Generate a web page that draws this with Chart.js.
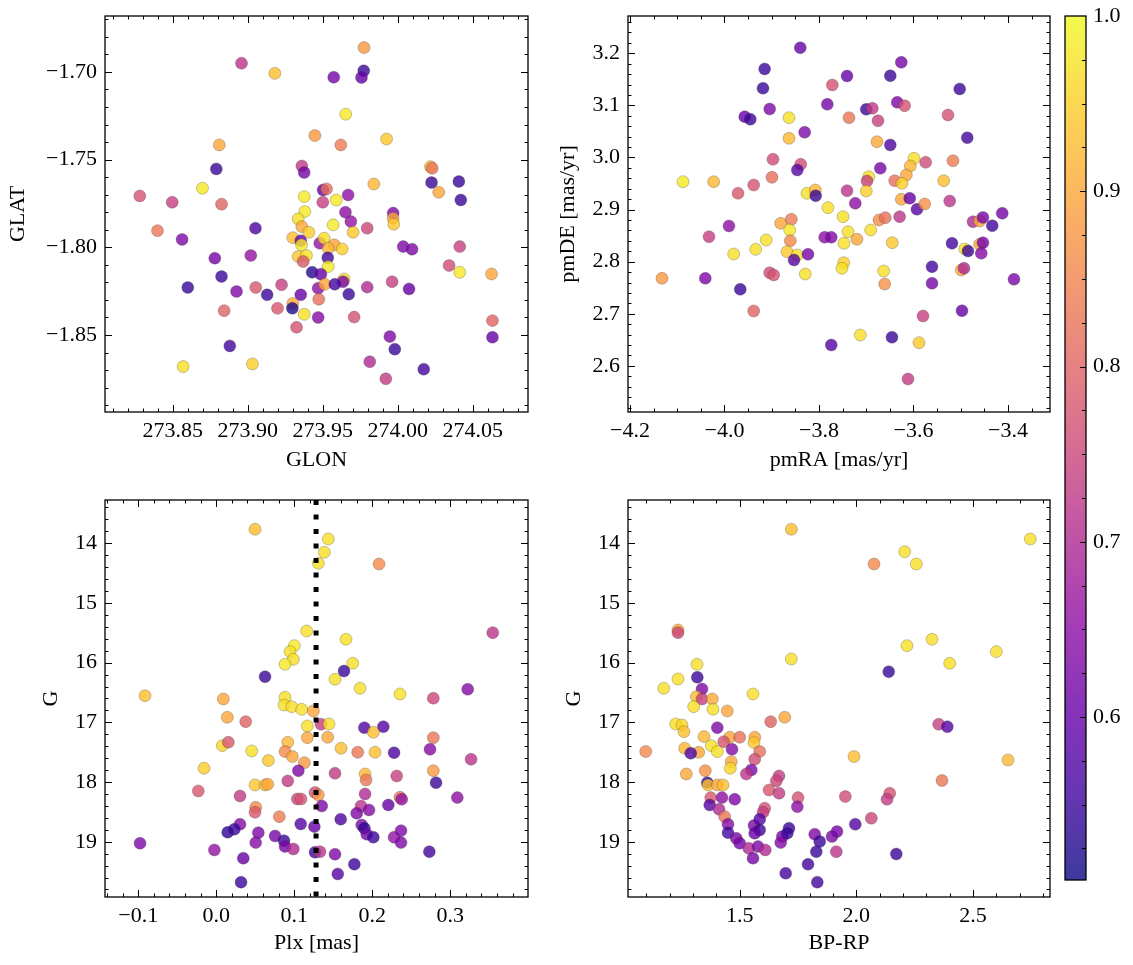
<!DOCTYPE html>
<html><head><meta charset="utf-8">
<script src="https://cdn.jsdelivr.net/npm/chart.js@4.4.1/dist/chart.umd.min.js"></script>
<style>
html,body{margin:0;padding:0;background:#fff;width:1133px;height:965px;overflow:hidden}
canvas{position:absolute}
</style></head><body>
<canvas id="cSky" width="560" height="490" style="left:0;top:0"></canvas>
<canvas id="cPm" width="520" height="490" style="left:540px;top:0"></canvas>
<canvas id="cPlx" width="560" height="475" style="left:0;top:490px"></canvas>
<canvas id="cCmd" width="520" height="475" style="left:540px;top:490px"></canvas>
<canvas id="cBar" width="73" height="965" style="left:1060px;top:0"></canvas>
<script>
// ---------------- data ----------------
const glon = [273.8958,273.918,273.9447,273.881,273.879,273.936,273.9376,273.8698,273.828,273.8496,273.8825,273.9376,273.938,273.9336,273.936,273.9407,273.93,273.9353,273.9358,273.9336,273.9391,273.9369,273.8398,273.8562,273.9051,273.878,273.902,273.8825,273.86,273.8925,273.9053,273.9129,273.9225,273.9429,273.9469,273.9353,273.93,273.9297,273.9198,273.9376,273.8842,273.9325,273.888,273.8569,273.9031,273.9469,273.9473,273.948,273.9775,273.9773,273.9758,273.9573,273.9653,273.9925,273.962,274.0218,274.0229,274.0225,274.0273,274.0407,274.042,273.984,273.9502,273.9525,273.95,273.959,273.9669,273.9651,273.9687,273.9569,273.9702,273.9796,273.9969,273.9969,273.9973,273.9509,273.9576,273.9536,273.9629,273.9533,273.9536,273.9487,273.9642,273.9635,273.9513,273.958,273.9673,273.9796,273.9962,274.0075,274.0036,274.0095,274.0342,274.0413,274.0413,274.0625,274.0631,274.0631,273.9709,273.9947,273.998,273.9813,273.992,274.0173];
const glat = [-1.695,-1.7008,-1.7363,-1.7416,-1.7553,-1.7536,-1.7574,-1.7663,-1.7707,-1.7743,-1.7754,-1.7711,-1.7796,-1.7838,-1.7882,-1.7914,-1.7945,-1.7962,-1.7986,-1.8053,-1.8047,-1.8081,-1.7905,-1.7955,-1.7891,-1.8062,-1.8047,-1.8167,-1.8229,-1.8252,-1.8229,-1.8271,-1.8214,-1.8142,-1.8233,-1.8271,-1.832,-1.8348,-1.8348,-1.8382,-1.8361,-1.8456,-1.8562,-1.868,-1.8665,-1.84,-1.8296,-1.7977,-1.6861,-1.6993,-1.7032,-1.703,-1.7241,-1.7382,-1.7416,-1.754,-1.7549,-1.7631,-1.7686,-1.7625,-1.773,-1.7639,-1.7673,-1.7667,-1.7743,-1.773,-1.7701,-1.78,-1.7853,-1.7872,-1.7914,-1.7891,-1.7805,-1.7834,-1.7868,-1.7948,-1.7986,-1.8005,-1.8009,-1.8059,-1.811,-1.8153,-1.818,-1.8196,-1.8211,-1.8211,-1.8267,-1.8227,-1.8196,-1.8237,-1.7996,-1.8011,-1.8104,-1.7996,-1.8142,-1.8152,-1.8418,-1.8513,-1.8398,-1.8509,-1.8581,-1.8652,-1.875,-1.8695];
const probSky = [0.72,0.93,0.88,0.90,0.55,0.73,0.62,0.98,0.77,0.74,0.80,0.98,0.98,0.97,0.90,0.95,0.93,0.60,0.98,0.94,0.97,0.78,0.83,0.63,0.57,0.62,0.66,0.55,0.55,0.63,0.78,0.55,0.74,0.53,0.65,0.60,0.90,0.52,0.78,0.97,0.80,0.77,0.56,0.97,0.95,0.64,0.82,0.66,0.88,0.55,0.60,0.62,0.98,0.94,0.84,0.92,0.83,0.55,0.90,0.55,0.55,0.92,0.60,0.82,0.74,0.98,0.65,0.65,0.66,0.98,0.94,0.75,0.63,0.90,0.94,0.97,0.90,0.92,0.95,0.56,0.98,0.60,0.97,0.62,0.90,0.56,0.55,0.70,0.74,0.60,0.63,0.63,0.76,0.74,0.98,0.90,0.80,0.60,0.77,0.63,0.55,0.70,0.73,0.56];

const pmra = [-3.8396,-3.915,-3.9185,-3.7824,-3.7718,-3.9044,-3.9572,-3.9454,-3.8635,-3.8635,-3.8303,-3.8974,-3.8387,-3.8459,-4.0878,-4.0229,-3.9714,-3.9382,-3.8995,-3.8254,-3.8078,-3.807,-3.781,-3.7492,-3.8811,-3.8586,-3.862,-3.8607,-3.8677,-3.8459,-3.8529,-3.8233,-3.829,-3.9905,-4.0328,-3.9116,-3.934,-3.9805,-3.9044,-3.8959,-4.1323,-4.0406,-3.9666,-3.9382,-3.774,-3.788,-3.774,-3.7471,-3.7477,-3.7513,-3.7407,-3.7407,-3.6258,-3.6491,-3.5022,-3.6999,-3.6872,-3.6343,-3.6187,-3.6751,-3.7365,-3.527,-3.4862,-3.6773,-3.6491,-3.5989,-3.6068,-3.5742,-3.5164,-3.6703,-3.6948,-3.6984,-3.6999,-3.6398,-3.6152,-3.6243,-3.5361,-3.7232,-3.6258,-3.608,-3.5926,-3.5763,-3.5234,-3.6293,-3.6731,-3.6597,-3.7386,-3.7196,-3.6906,-3.6449,-3.4741,-3.46,-3.453,-3.4333,-3.4122,-3.5185,-3.4916,-3.4846,-3.46,-3.453,-3.4566,-3.5608,-3.5608,-3.4989,-3.4931,-3.3873,-3.6631,-3.661,-3.5799,-3.4974,-3.7126,-3.6455,-3.5884,-3.6116];
const pmde = [3.2107,3.17,3.1328,3.1021,3.1392,3.0931,3.0783,3.0733,3.0764,3.0368,3.0484,2.9965,2.9869,2.976,2.9536,2.9536,2.9313,2.9472,2.962,2.9313,2.9376,2.9267,2.9037,2.8864,2.8737,2.8813,2.8608,2.8403,2.8192,2.8129,2.8033,2.8142,2.7764,2.8685,2.848,2.8417,2.8238,2.8148,2.7789,2.7745,2.7681,2.7681,2.747,2.7054,2.6401,2.8468,2.8468,2.8353,2.798,2.7873,3.1564,2.9363,3.1827,3.157,3.1315,3.0925,3.0944,3.1059,3.0994,3.0706,3.0764,3.0816,3.038,3.0303,3.024,2.9985,2.9837,2.9908,2.9939,2.9793,2.9631,2.9549,2.9357,2.9555,2.9664,2.9505,2.9555,2.9121,2.9198,2.9217,2.9006,2.9107,2.9165,2.8864,2.88,2.8845,2.8576,2.843,2.8608,2.8365,2.8768,2.8781,2.885,2.8691,2.8929,2.8353,2.8244,2.8205,2.8334,2.8365,2.8161,2.7904,2.7585,2.7841,2.7873,2.7662,2.7822,2.7572,2.6958,2.706,2.6593,2.6549,2.6446,2.5749];
const probPm = [0.60,0.55,0.55,0.62,0.77,0.63,0.60,0.55,0.97,0.92,0.63,0.76,0.76,0.58,0.98,0.92,0.78,0.77,0.82,0.97,0.92,0.55,0.97,0.97,0.90,0.84,0.98,0.86,0.94,0.97,0.58,0.62,0.97,0.65,0.74,0.97,0.97,0.97,0.76,0.77,0.88,0.63,0.55,0.80,0.58,0.65,0.63,0.97,0.95,0.97,0.60,0.72,0.62,0.55,0.55,0.55,0.73,0.63,0.77,0.74,0.83,0.77,0.56,0.90,0.57,0.97,0.92,0.76,0.84,0.62,0.97,0.74,0.95,0.82,0.90,0.95,0.93,0.65,0.90,0.60,0.58,0.87,0.72,0.72,0.86,0.82,0.97,0.90,0.97,0.94,0.70,0.90,0.62,0.56,0.62,0.56,0.97,0.55,0.90,0.62,0.64,0.56,0.62,0.90,0.70,0.63,0.97,0.87,0.74,0.60,0.97,0.55,0.94,0.73];

const plx = [0.0497,0.1309,0.1386,0.1437,0.116,0.1001,0.0946,0.0989,0.0882,0.0626,-0.0913,0.0091,0.0882,0.0869,0.0968,0.1096,0.1245,0.0142,0.0378,0.1168,0.1344,0.1168,0.0078,0.0155,0.0917,0.0882,0.0976,0.0455,0.0668,0.113,-0.0156,0.1053,0.0917,0.0497,0.0626,0.066,-0.023,0.0305,0.104,0.1087,0.1267,0.1309,0.1353,0.0506,0.0497,0.0809,0.1083,0.1258,0.0305,0.0232,0.0147,0.054,0.0754,0.0869,0.0882,0.0989,0.0506,-0.0977,-0.0024,0.0347,0.1267,0.133,0.0318,0.2087,0.3545,0.1664,0.175,0.1638,0.1523,0.1844,0.2356,0.3224,0.2783,0.1446,0.1429,0.1899,0.2142,0.2014,0.16,0.1814,0.2036,0.228,0.2783,0.2741,0.3267,0.2783,0.2818,0.1523,0.1908,0.1921,0.2314,0.1908,0.2356,0.2378,0.3091,0.2206,0.1856,0.1801,0.1959,0.1865,0.1899,0.193,0.2014,0.228,0.2369,0.2369,0.1596,0.1523,0.1771,0.1558,0.2732];
const gPlx = [13.765,14.335,14.151,13.928,15.469,15.715,15.815,15.943,16.027,16.234,16.553,16.608,16.58,16.709,16.737,16.781,16.809,16.915,16.988,17.06,17.032,17.256,17.39,17.333,17.333,17.49,17.574,17.479,17.641,17.675,17.769,17.809,17.981,18.049,18.049,18.037,18.149,18.233,18.283,18.283,18.177,18.216,18.401,18.422,18.506,18.58,18.702,18.747,18.707,18.791,18.841,18.848,18.903,18.982,19.082,19.121,19.015,19.025,19.137,19.276,19.176,19.166,19.678,14.347,15.497,15.608,16.01,16.139,16.278,16.429,16.524,16.446,16.596,17.027,17.25,17.089,17.072,17.166,17.434,17.501,17.501,17.508,17.256,17.451,17.618,17.809,18.01,17.853,17.865,17.965,17.898,18.199,18.255,18.288,18.261,18.384,18.401,18.523,18.467,18.718,18.774,18.874,18.925,18.925,18.814,19.015,18.623,19.209,19.377,19.539,19.166];
const probPlx = [0.93,0.97,0.97,0.97,0.97,0.98,0.97,0.97,0.98,0.55,0.93,0.90,0.97,0.97,0.97,0.97,0.90,0.90,0.80,0.97,0.74,0.90,0.96,0.78,0.92,0.86,0.90,0.97,0.94,0.88,0.95,0.63,0.73,0.94,0.93,0.90,0.78,0.73,0.75,0.77,0.77,0.88,0.63,0.86,0.78,0.84,0.58,0.60,0.64,0.55,0.54,0.63,0.62,0.55,0.62,0.70,0.64,0.63,0.66,0.60,0.55,0.72,0.55,0.86,0.72,0.97,0.97,0.55,0.97,0.97,0.97,0.64,0.75,0.97,0.90,0.58,0.58,0.93,0.93,0.83,0.93,0.57,0.83,0.64,0.72,0.88,0.55,0.73,0.92,0.83,0.74,0.70,0.83,0.66,0.65,0.60,0.72,0.63,0.64,0.63,0.54,0.62,0.55,0.66,0.63,0.63,0.57,0.63,0.55,0.58,0.56];
const plxRef = 0.128;

const bprp = [1.7212,1.2355,1.2355,1.7212,1.317,1.3183,1.2355,1.1742,1.3384,1.314,1.3384,1.3826,1.3028,1.3855,1.4469,1.557,1.6329,1.6929,1.2257,1.2527,1.2613,1.404,1.347,1.4571,1.4314,1.5,1.5643,1.5613,1.2643,1.3243,1.29,1.3783,1.404,1.467,1.5857,1.5643,1.0971,1.464,1.4597,1.2711,1.3526,1.5497,1.5283,1.3611,1.3641,1.404,1.4284,1.6685,1.6569,1.6256,1.6685,1.7499,1.7469,1.3757,1.4241,1.4786,1.3714,1.4113,1.6072,1.5999,1.4357,1.4499,1.4499,1.4854,1.5,1.5386,1.5784,1.6097,1.557,1.5613,1.5857,1.5857,1.5643,1.6826,1.6757,1.7113,1.704,1.6972,1.7928,1.8215,1.8429,1.8283,1.8326,1.8956,1.917,1.9141,1.9527,2.7456,2.2072,2.257,2.0757,2.3243,2.2171,2.4001,2.5999,2.1387,2.353,2.3899,1.9899,2.65,2.3671,2.143,2.1314,2.0641,1.9955,2.1712];
const gCmd = [13.765,15.452,15.497,15.938,16.027,16.245,16.273,16.429,16.441,16.569,16.608,16.608,16.737,16.781,16.809,16.524,16.988,16.915,17.027,17.044,17.156,17.089,17.239,17.25,17.323,17.25,17.25,17.339,17.434,17.501,17.518,17.39,17.49,17.451,17.49,17.618,17.49,17.658,17.769,17.865,17.809,17.797,17.865,18.01,18.049,18.049,18.049,17.898,17.982,18.132,18.188,18.261,18.412,18.261,18.261,18.288,18.384,18.456,18.439,18.506,18.58,18.707,18.848,18.942,19.025,19.109,19.082,19.137,19.276,18.73,18.802,18.623,18.858,18.914,19.015,18.774,18.858,19.528,19.377,18.874,18.998,19.166,19.678,18.914,18.83,19.166,18.244,13.928,14.141,14.347,14.347,15.608,15.715,16.01,15.815,16.151,17.032,17.072,17.574,17.63,17.976,18.188,18.288,18.606,18.707,19.205];
const probCmd = [0.93,0.90,0.75,0.97,0.97,0.55,0.97,0.97,0.63,0.93,0.74,0.90,0.97,0.97,0.90,0.97,0.80,0.90,0.97,0.96,0.93,0.63,0.92,0.90,0.77,0.82,0.90,0.94,0.92,0.90,0.57,0.97,0.97,0.64,0.82,0.76,0.86,0.90,0.96,0.90,0.87,0.63,0.72,0.54,0.94,0.90,0.93,0.73,0.75,0.78,0.73,0.77,0.65,0.78,0.65,0.63,0.58,0.70,0.77,0.74,0.83,0.64,0.56,0.63,0.62,0.70,0.63,0.70,0.62,0.63,0.55,0.58,0.60,0.62,0.64,0.55,0.55,0.56,0.56,0.63,0.55,0.55,0.56,0.63,0.62,0.72,0.76,0.97,0.97,0.97,0.86,0.97,0.97,0.97,0.97,0.55,0.74,0.58,0.93,0.92,0.83,0.77,0.73,0.75,0.58,0.55];

const glonTicks = [273.85, 273.90, 273.95, 274.00, 274.05];
const glatTicks = [-1.70, -1.75, -1.80, -1.85];
const pmraTicks = [-4.2, -4.0, -3.8, -3.6, -3.4];
const pmdeTicks = [2.6, 2.7, 2.8, 2.9, 3.0, 3.1, 3.2];
const plxTicks = [-0.1, 0.0, 0.1, 0.2, 0.3];
const gTicks = [14, 15, 16, 17, 18, 19];
const bprpTicks = [1.5, 2.0, 2.5];
const barTicks = [0.6, 0.7, 0.8, 0.9, 1.0];
const VMIN = 0.507, VMAX = 1.0;

// ---------------- helpers ----------------
Chart.defaults.font.family = "'Liberation Serif', 'Times New Roman', serif";
Chart.defaults.font.size = 22;
Chart.defaults.color = '#000';

const PLASMA = ['#0d0887','#41049d','#6a00a8','#8f0da4','#b12a90','#cc4778','#e16462','#f2844b','#fca636','#fcce25','#f0f921'];
function hex2rgb(h){return [1,3,5].map(i=>parseInt(h.substr(i,2),16));}
function plasma(t, a){
  t = Math.max(0, Math.min(1, t));
  const f = t*(PLASMA.length-1);
  const i = Math.min(PLASMA.length-2, Math.floor(f));
  const u = f - i;
  const c0 = hex2rgb(PLASMA[i]), c1 = hex2rgb(PLASMA[i+1]);
  const c = c0.map((v,k)=>Math.round(v+(c1[k]-v)*u));
  return `rgba(${c[0]},${c[1]},${c[2]},${a})`;
}
function minorVals(min, max, step){
  const out = [];
  for (let k = Math.ceil(min/step - 1e-9); k*step <= max + 1e-9; k++) out.push(+(k*step).toFixed(6));
  return out;
}
const fmt = d => v => Number(v).toFixed(d).replace('-', '\u2212');

function framePlugin(xMinorStep, yMinorStep){
  return {
    id: 'frameTicks',
    afterDatasetsDraw(chart){
      const {ctx, chartArea: a} = chart;
      const xs = chart.scales.x, ys = chart.scales.y;
      ctx.save();
      ctx.strokeStyle = '#000';
      ctx.lineWidth = 1;
      ctx.beginPath();
      const tx = (vals, len) => vals.forEach(v => {
        const p = Math.round(xs.getPixelForValue(v)) + 0.5;
        if (p < a.left + 1 || p > a.right - 1) return;
        ctx.moveTo(p, a.bottom); ctx.lineTo(p, a.bottom - len);
        ctx.moveTo(p, a.top); ctx.lineTo(p, a.top + len);
      });
      const ty = (vals, len) => vals.forEach(v => {
        const p = Math.round(ys.getPixelForValue(v)) + 0.5;
        if (p < a.top + 1 || p > a.bottom - 1) return;
        ctx.moveTo(a.left, p); ctx.lineTo(a.left + len, p);
        ctx.moveTo(a.right, p); ctx.lineTo(a.right - len, p);
      });
      tx(minorVals(xs.min, xs.max, xMinorStep), 3.5);
      tx(xs.ticks.map(t => t.value), 7);
      ty(minorVals(ys.min, ys.max, yMinorStep), 3.5);
      ty(ys.ticks.map(t => t.value), 7);
      ctx.stroke();
      ctx.lineWidth = 1.3;
      ctx.strokeRect(a.left, a.top, a.right - a.left, a.bottom - a.top);
      ctx.restore();
    }
  };
}

function makePanel(id, xs, ys, ps, cfg){
  const pts = xs.map((x,i)=>({x, y: ys[i]}));
  const colors = ps.map(p => plasma((p-VMIN)/(VMAX-VMIN), 0.8));
  const datasets = [{
    type: 'scatter', data: pts, order: 2,
    pointRadius: 6, pointHoverRadius: 6,
    pointBackgroundColor: colors,
    pointBorderColor: 'rgba(50,50,50,0.45)', pointBorderWidth: 0.6
  }];
  if (cfg.vline !== undefined) {
    datasets.push({
      type: 'line', order: 1,
      data: [{x: cfg.vline, y: cfg.y[0]}, {x: cfg.vline, y: cfg.y[1]}],
      borderColor: '#000', borderWidth: 5, borderDash: [5, 9.5], borderCapStyle: 'butt',
      pointRadius: 0, fill: false
    });
  }
  return new Chart(document.getElementById(id), {
    type: 'scatter',
    data: { datasets },
    options: {
      responsive: false, animation: false, devicePixelRatio: 1,
      events: [],
      layout: { padding: cfg.pad },
      plugins: { legend: {display:false}, tooltip: {enabled:false} },
      scales: {
        x: {
          type: 'linear', min: cfg.x[0], max: cfg.x[1],
          grid: {display:false, drawTicks:false}, border: {display:false},
          afterBuildTicks: s => { s.ticks = cfg.xTicks.map(v => ({value: v})); },
          afterFit: s => { s.height = cfg.xH; s.paddingLeft = 0; s.paddingRight = 0; },
          ticks: { callback: fmt(cfg.xDec), padding: 6, maxRotation: 0, autoSkip: false },
          title: { display: true, text: cfg.xTitle, padding: {top: 0, bottom: cfg.xTitlePad} }
        },
        y: {
          type: 'linear', min: cfg.y[0], max: cfg.y[1], reverse: !!cfg.rev,
          grid: {display:false, drawTicks:false}, border: {display:false},
          afterBuildTicks: s => { s.ticks = cfg.yTicks.map(v => ({value: v})); },
          afterFit: s => { s.width = cfg.yW; s.paddingTop = 0; s.paddingBottom = 0; },
          ticks: { callback: fmt(cfg.yDec), padding: 8, autoSkip: false },
          title: { display: true, text: cfg.yTitle, padding: {top: cfg.yTitlePad, bottom: 0} }
        }
      }
    },
    plugins: [framePlugin(cfg.xMinor, cfg.yMinor)]
  });
}

makePanel('cSky', glon, glat, probSky, {
  x: [273.8048, 274.0868], y: [-1.8939, -1.6681],
  xTicks: glonTicks, yTicks: glatTicks, xDec: 2, yDec: 2,
  xMinor: 0.01, yMinor: 0.01, xTitle: 'GLON', yTitle: 'GLAT',
  pad: {top:16, right:32, left:0, bottom:0}, yW: 105, xH: 78, xTitlePad: 17, yTitlePad: 5
});
makePanel('cPm', pmra, pmde, probPm, {
  x: [-4.2042, -3.3111], y: [2.5115, 3.2716],
  xTicks: pmraTicks, yTicks: pmdeTicks, xDec: 1, yDec: 1,
  xMinor: 0.05, yMinor: 0.02, xTitle: 'pmRA [mas/yr]', yTitle: 'pmDE [mas/yr]',
  pad: {top:16, right:10, left:0, bottom:0}, yW: 88, xH: 78, xTitlePad: 17, yTitlePad: 15
});
makePanel('cPlx', plx, gPlx, probPlx, {
  x: [-0.1426, 0.3997], y: [13.2747, 19.926], rev: true,
  xTicks: plxTicks, yTicks: gTicks, xDec: 1, yDec: 0,
  xMinor: 0.02, yMinor: 0.2, xTitle: 'Plx [mas]', yTitle: 'G',
  pad: {top:10, right:32, left:0, bottom:0}, yW: 105, xH: 68, xTitlePad: 9, yTitlePad: 38,
  vline: plxRef
});
makePanel('cCmd', bprp, gCmd, probCmd, {
  x: [1.0212, 2.830], y: [13.2747, 19.926], rev: true,
  xTicks: bprpTicks, yTicks: gTicks, xDec: 1, yDec: 0,
  xMinor: 0.1, yMinor: 0.2, xTitle: 'BP-RP', yTitle: 'G',
  pad: {top:10, right:10, left:0, bottom:0}, yW: 88, xH: 68, xTitlePad: 9, yTitlePad: 21
});

// ---------------- colorbar ----------------
new Chart(document.getElementById('cBar'), {
  type: 'scatter',
  data: { datasets: [] },
  options: {
    responsive: false, animation: false, devicePixelRatio: 1, events: [],
    layout: { padding: {left:5, top:16, bottom:85, right:0} },
    plugins: { legend: {display:false}, tooltip: {enabled:false} },
    scales: {
      x: { display: false, min: 0, max: 1 },
      y: {
        position: 'right', min: VMIN, max: VMAX,
        grid: {display:false, drawTicks:false}, border: {display:false},
        afterBuildTicks: s => { s.ticks = barTicks.map(v => ({value: v})); },
        afterFit: s => { s.width = 47; s.paddingTop = 0; s.paddingBottom = 0; },
        ticks: { callback: fmt(1), padding: 7, autoSkip: false }
      }
    }
  },
  plugins: [{
    id: 'cbar',
    beforeDatasetsDraw(chart){
      const {ctx, chartArea: a} = chart;
      const g = ctx.createLinearGradient(0, a.bottom, 0, a.top);
      for (let i = 0; i <= 40; i++) g.addColorStop(i/40, plasma(i/40, 0.8));
      ctx.fillStyle = g;
      ctx.fillRect(a.left, a.top, a.right - a.left, a.bottom - a.top);
    },
    afterDraw(chart){
      const {ctx, chartArea: a} = chart;
      const ys = chart.scales.y;
      ctx.save();
      ctx.strokeStyle = '#000'; ctx.lineWidth = 1;
      ctx.beginPath();
      minorVals(ys.min, ys.max, 0.025).forEach(v => {
        const p = Math.round(ys.getPixelForValue(v)) + 0.5;
        if (p < a.top + 1 || p > a.bottom - 1) return;
        const len = barTicks.some(t => Math.abs(t - v) < 1e-6) ? 6 : 4;
        ctx.moveTo(a.right, p); ctx.lineTo(a.right - len, p);
      });
      ctx.stroke();
      ctx.lineWidth = 1.3;
      ctx.strokeRect(a.left, a.top, a.right - a.left, a.bottom - a.top);
      ctx.restore();
    }
  }]
});
</script>
</body></html>
